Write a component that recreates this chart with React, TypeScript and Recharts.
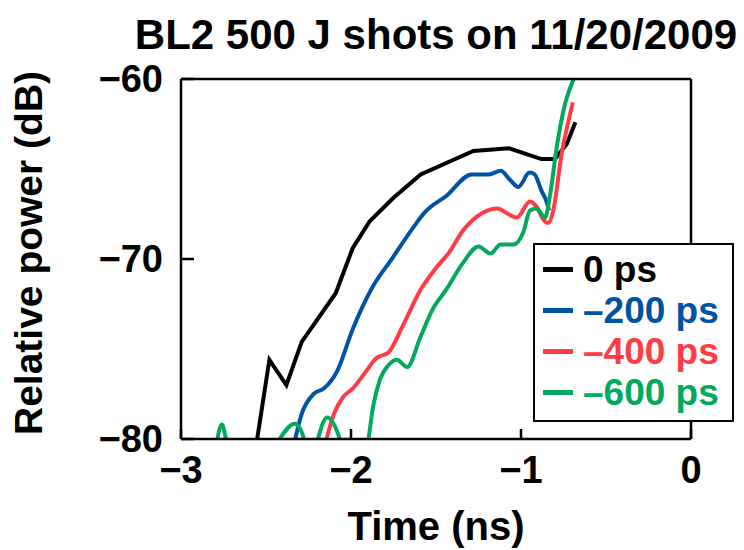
import React from 'react';
import { LineChart, Line, XAxis, YAxis, Legend, Label } from 'recharts';

const FONT = '"Liberation Sans", Arial, Helvetica, sans-serif';

const title = 'BL2 500 J shots on 11/20/2009';
const xLabel = 'Time (ns)';
const yLabel = 'Relative power (dB)';
const xTicks = [-3, -2, -1, 0];
const yTicks = [-80, -70, -60];
const seriesNames = ['0 ps', '\u2013200 ps', '\u2013400 ps', '\u2013600 ps'];
const seriesColors = ['#000000', '#0052a5', '#ff3b45', '#00a95c'];

// 0 ps
const t0 = [-2.56, -2.48, -2.38, -2.29, -2.09, -1.99, -1.89, -1.75, -1.59, -1.28, -1.07, -0.88, -0.80, -0.73, -0.68];
const p0 = [-80.5, -75.6, -77.0, -74.6, -71.9, -69.4, -67.9, -66.6, -65.3, -64.0, -63.85, -64.45, -64.45, -63.6, -62.4];

// -200 ps
const t200 = [-2.34, -2.29, -2.22, -2.16, -2.08, -1.99, -1.87, -1.76, -1.63, -1.565, -1.44, -1.29, -1.19, -1.12, -1.065, -1.016, -0.95, -0.92, -0.88, -0.85, -0.835];
const p200 = [-80.5, -78.6, -77.5, -77.2, -76.2, -73.9, -71.5, -70.0, -68.2, -67.4, -66.5, -65.3, -65.3, -65.1, -65.6, -66.0, -65.2, -65.3, -66.2, -66.8, -67.3];

// -400 ps
const t400 = [-2.16, -2.10, -2.045, -1.99, -1.92, -1.85, -1.78, -1.70, -1.59, -1.50, -1.42, -1.34, -1.26, -1.14, -1.075, -1.025, -0.947, -0.908, -0.869, -0.84, -0.81, -0.76, -0.72, -0.695];
const p400 = [-80.6, -78.6, -77.65, -77.2, -76.35, -75.5, -75.2, -73.8, -71.7, -70.5, -69.6, -68.4, -67.65, -67.2, -67.5, -67.7, -66.8, -67.1, -67.8, -68.0, -67.3, -64.1, -62.3, -61.3];

// -600 ps
const t600 = [-2.84, -2.79, -2.76, -2.73, -2.62, -2.44, -2.33, -2.27, -2.24, -2.20, -2.14, -2.06, -1.98, -1.90, -1.87, -1.83, -1.78, -1.73, -1.67, -1.59, -1.52, -1.44, -1.34, -1.25, -1.18, -1.12, -1.045, -0.986, -0.947, -0.908, -0.859, -0.83, -0.79, -0.74, -0.69];
const p600 = [-84, -80.2, -79.2, -80.2, -84, -80.3, -79.15, -80.2, -82, -80.2, -78.8, -80.2, -84, -80.2, -78.2, -76.7, -75.9, -75.6, -76.0, -74.3, -72.8, -71.7, -70.2, -69.3, -69.7, -69.2, -69.2, -68.5, -67.3, -67.2, -67.7, -66.5, -63.8, -61.35, -60.0];

const makeData = (t: number[], p: number[]) => t.map((x, i) => ({ t: x, v: p[i] }));
const seriesData = [makeData(t0, p0), makeData(t200, p200), makeData(t400, p400), makeData(t600, p600)];

const fmt = (v: number) => (v < 0 ? '\u2212' + Math.abs(v) : String(v));

const renderLegend = () => (
  <div
    style={{
      width: 201,
      height: 179,
      boxSizing: 'border-box',
      border: '2.5px solid #000',
      background: '#fff',
      paddingTop: 4,
      paddingLeft: 8,
      fontFamily: FONT,
      fontWeight: 'bold',
      fontSize: 37,
      lineHeight: '41px',
    }}
  >
    {seriesNames.map((n, i) => (
      <div key={n} style={{ display: 'flex', alignItems: 'center', height: 41, color: seriesColors[i], whiteSpace: 'nowrap' }}>
        <span style={{ display: 'inline-block', width: 30, height: 5, background: seriesColors[i], marginRight: 10 }} />
        <span>{n}</span>
      </div>
    ))}
  </div>
);

export default function App() {
  const axisStroke = { stroke: '#000', strokeWidth: 2.5 };
  const tickStyle = { fill: '#000', fontSize: 38, fontWeight: 'bold' as const, fontFamily: FONT };
  return (
    <div style={{ position: 'absolute', left: 0, top: 0, width: 744, height: 550, background: '#fff' }}>
      <div
        style={{
          position: 'absolute',
          left: 436,
          top: 14,
          transform: 'translateX(-50%)',
          textAlign: 'center',
          fontFamily: FONT,
          fontWeight: 'bold',
          fontSize: 42,
          lineHeight: '42px',
          whiteSpace: 'nowrap',
          color: '#000',
          zIndex: 2,
        }}
      >
        {title}
      </div>
      <LineChart width={744} height={550} margin={{ top: 78, right: 52, bottom: 51, left: 81 }}>
        <XAxis
          dataKey="t"
          type="number"
          domain={[-3, 0]}
          ticks={xTicks}
          allowDataOverflow
          height={60}
          tickSize={-10}
          tickMargin={27}
          tickFormatter={fmt}
          tick={tickStyle}
          axisLine={axisStroke}
          tickLine={axisStroke}
        >
          <Label
            content={(props: any) => {
              const vb = props.viewBox || {};
              return (
                <text
                  x={vb.x + vb.width / 2}
                  y={vb.y + 101}
                  textAnchor="middle"
                  fontFamily={FONT}
                  fontWeight="bold"
                  fontSize={40}
                  fill="#000"
                >
                  {xLabel}
                </text>
              );
            }}
          />
        </XAxis>
        <XAxis
          xAxisId="top"
          orientation="top"
          dataKey="t"
          type="number"
          domain={[-3, 0]}
          ticks={xTicks}
          allowDataOverflow
          height={1}
          tickSize={-13}
          tick={false}
          axisLine={axisStroke}
          tickLine={axisStroke}
        />
        <YAxis
          type="number"
          domain={[-80, -60]}
          ticks={yTicks}
          allowDataOverflow
          width={100}
          tickSize={-13}
          tickMargin={31}
          tickFormatter={fmt}
          tick={tickStyle}
          axisLine={axisStroke}
          tickLine={axisStroke}
        >
          <Label
            content={(props: any) => {
              const vb = props.viewBox || {};
              const cx = vb.x - 39;
              const cy = vb.y + vb.height / 2 - 6;
              return (
                <text
                  x={cx}
                  y={cy}
                  transform={`rotate(-90, ${cx}, ${cy})`}
                  textAnchor="middle"
                  fontFamily={FONT}
                  fontWeight="bold"
                  fontSize={39}
                  fill="#000"
                >
                  {yLabel}
                </text>
              );
            }}
          />
        </YAxis>
        <YAxis
          yAxisId="right"
          orientation="right"
          type="number"
          domain={[-80, -60]}
          ticks={yTicks}
          allowDataOverflow
          width={1}
          tickSize={-13}
          tick={false}
          axisLine={axisStroke}
          tickLine={axisStroke}
        />
        {seriesData.map((d, i) => (
          <Line
            key={seriesNames[i]}
            data={d}
            dataKey="v"
            name={seriesNames[i]}
            type={i === 0 ? 'linear' : 'monotone'}
            stroke={seriesColors[i]}
            strokeWidth={4}
            dot={false}
            activeDot={false}
            isAnimationActive={false}
          />
        ))}
        <Legend
          layout="horizontal"
          verticalAlign="middle"
          align="center"
          content={renderLegend}
          wrapperStyle={{ left: 533, top: 243, width: 201, height: 179 }}
        />
      </LineChart>
    </div>
  );
}
